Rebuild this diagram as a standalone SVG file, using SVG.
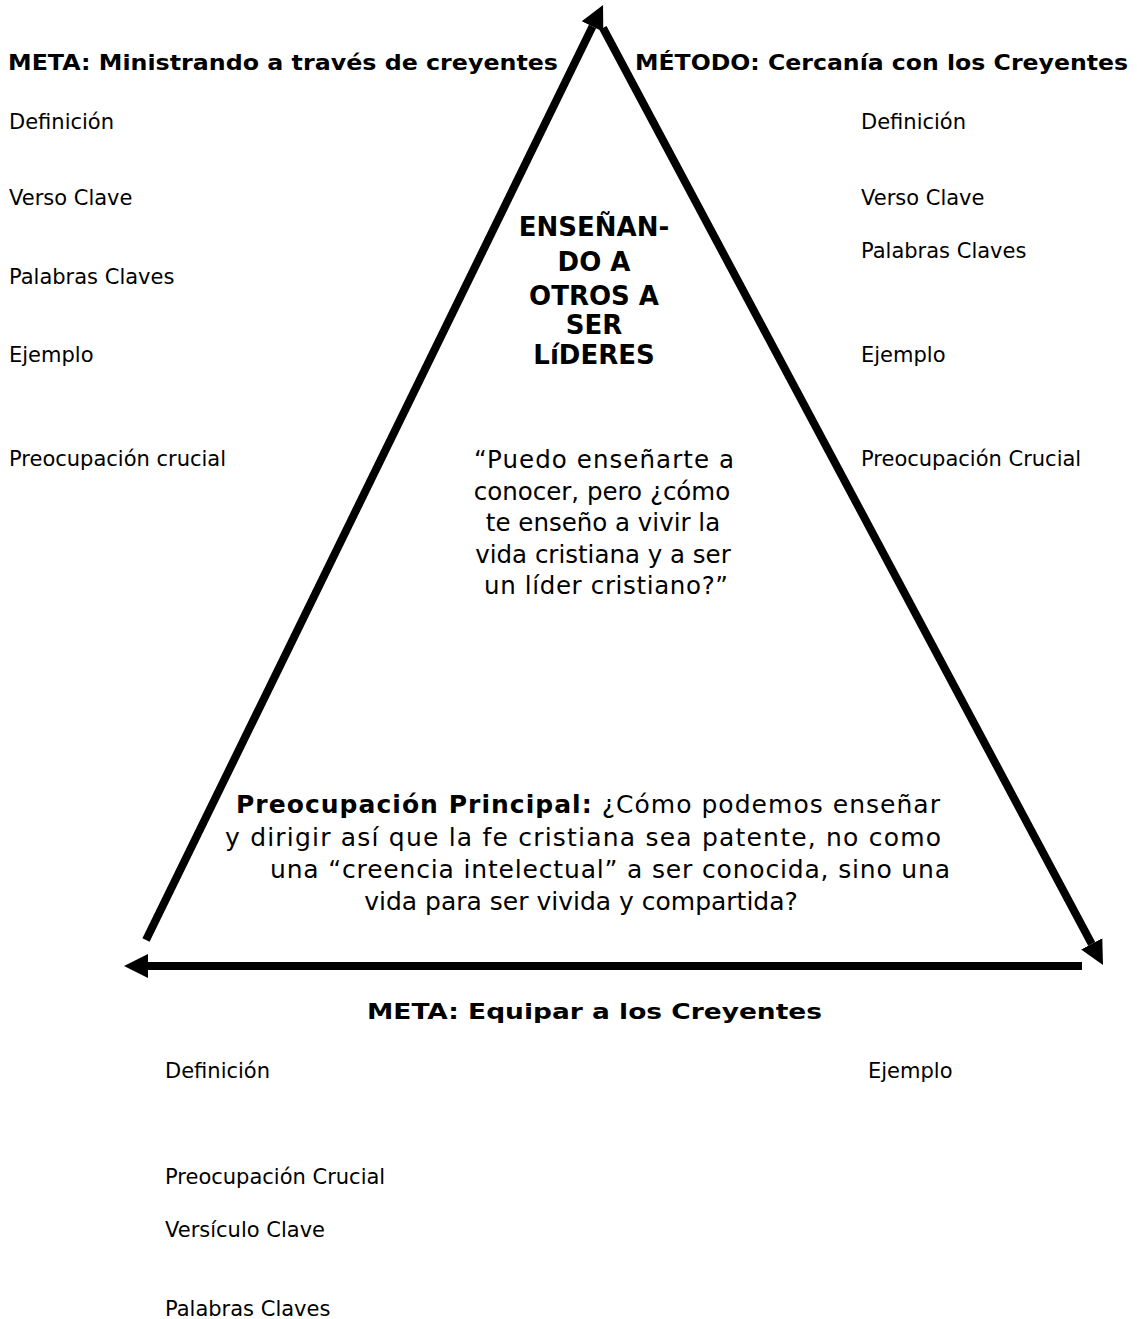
<svg xmlns="http://www.w3.org/2000/svg" width="1137" height="1319" viewBox="0 0 1137 1319">
<style>
text{font-family:"DejaVu Sans","Liberation Sans",sans-serif;fill:#000}
.h{font-size:22px;font-weight:bold}
.t{font-size:21px}
.c{font-size:26px;font-weight:bold;text-anchor:middle}
.q{font-size:24.5px;text-anchor:middle}
.p{font-size:25px;text-anchor:middle}
.ln{stroke:#000;stroke-width:8;fill:none;marker-end:url(#ah)}
</style>
<defs>
<marker id="ah" markerUnits="userSpaceOnUse" markerWidth="26" markerHeight="26" viewBox="0 -13 26 26" refX="0" refY="0" orient="auto">
<path d="M0,-12 L24,0 L0,12 Z" fill="#000"/>
</marker>
</defs>
<rect width="1137" height="1319" fill="#fff"/>
<g id="connectors">
<line class="ln" x1="146" y1="940" x2="592.5" y2="26.6"/>
<line class="ln" x1="603" y1="28" x2="1091.7" y2="943.8"/>
<line class="ln" x1="1082" y1="966" x2="148" y2="966"/>
</g>
<g id="goal-left">
<text class="h" x="8" y="70" textLength="550" lengthAdjust="spacingAndGlyphs">META: Ministrando a través de creyentes</text>
<text class="t" x="9" y="129">Definición</text>
<text class="t" x="9" y="205">Verso Clave</text>
<text class="t" x="9" y="284">Palabras Claves</text>
<text class="t" x="9" y="362">Ejemplo</text>
<text class="t" x="9" y="466">Preocupación crucial</text>
</g>
<g id="method-right">
<text class="h" x="635" y="70" textLength="493" lengthAdjust="spacingAndGlyphs">MÉTODO: Cercanía con los Creyentes</text>
<text class="t" x="861" y="129">Definición</text>
<text class="t" x="861" y="205">Verso Clave</text>
<text class="t" x="861" y="258">Palabras Claves</text>
<text class="t" x="861" y="362">Ejemplo</text>
<text class="t" x="861" y="466">Preocupación Crucial</text>
</g>
<g id="center-title">
<text class="c" x="594" y="236">ENSEÑAN-</text>
<text class="c" x="594" y="271">DO A</text>
<text class="c" x="594" y="305">OTROS A</text>
<text class="c" x="594" y="334">SER</text>
<text class="c" x="594" y="364">LíDERES</text>
</g>
<g id="quote">
<text class="q" x="604" y="468" textLength="260" lengthAdjust="spacing">“Puedo enseñarte a</text>
<text class="q" x="602" y="500">conocer, pero ¿cómo</text>
<text class="q" x="603" y="531">te enseño a vivir la</text>
<text class="q" x="603" y="563">vida cristiana y a ser</text>
<text class="q" x="606" y="594" textLength="244" lengthAdjust="spacing">un líder cristiano?”</text>
</g>
<g id="main-concern">
<text class="p" x="588" y="813" textLength="704" lengthAdjust="spacing"><tspan font-weight="bold">Preocupación Principal:</tspan> ¿Cómo podemos enseñar</text>
<text class="p" x="583" y="846" textLength="716" lengthAdjust="spacing">y dirigir así que la fe cristiana sea patente, no como</text>
<text class="p" x="610" y="878" textLength="680" lengthAdjust="spacing">una “creencia intelectual” a ser conocida, sino una</text>
<text class="p" x="581" y="910">vida para ser vivida y compartida?</text>
</g>
<g id="goal-bottom">
<text class="h" x="367" y="1019" textLength="455" lengthAdjust="spacingAndGlyphs">META: Equipar a los Creyentes</text>
<text class="t" x="165" y="1078">Definición</text>
<text class="t" x="868" y="1078">Ejemplo</text>
<text class="t" x="165" y="1184">Preocupación Crucial</text>
<text class="t" x="165" y="1237">Versículo Clave</text>
<text class="t" x="165" y="1316">Palabras Claves</text>
</g>
</svg>
